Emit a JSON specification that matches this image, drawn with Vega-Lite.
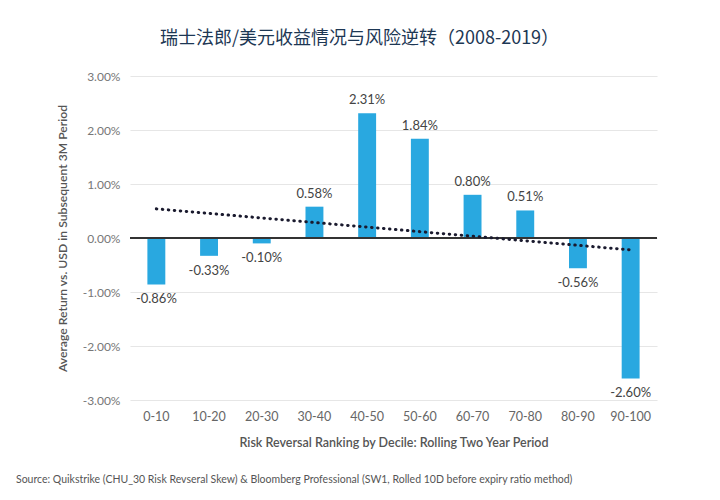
{
  "$schema": "https://vega.github.io/schema/vega-lite/v6.json",
  "padding": {"left": 16, "right": 5, "top": 30, "bottom": 10},
  "background": "white",
  "config": {
    "font": "Lato",
    "view": {"stroke": null},
    "locale": {"number": {"decimal": ".", "thousands": ",", "grouping": [3], "currency": ["$", ""], "minus": "-"}}
  },
  "title": {
    "text": "Source: Quikstrike (CHU_30 Risk Revseral Skew) & Bloomberg Professional (SW1, Rolled 10D before expiry ratio method)",
    "orient": "bottom",
    "anchor": "start",
    "frame": "group",
    "dx": -114,
    "offset": 26,
    "fontSize": 10.5,
    "fontWeight": "normal",
    "color": "#555555",
    "font": "Lato"
  },
  "datasets": {
    "bars": [
      {"decile": "0-10", "ret": -0.0086},
      {"decile": "10-20", "ret": -0.0033},
      {"decile": "20-30", "ret": -0.0010},
      {"decile": "30-40", "ret": 0.0058},
      {"decile": "40-50", "ret": 0.0231},
      {"decile": "50-60", "ret": 0.0184},
      {"decile": "60-70", "ret": 0.0080},
      {"decile": "70-80", "ret": 0.0051},
      {"decile": "80-90", "ret": -0.0056},
      {"decile": "90-100", "ret": -0.0260}
    ],
    "trend": [
      {"decile": "0-10", "trend": 0.0054},
      {"decile": "90-100", "trend": -0.0022}
    ]
  },
  "vconcat": [
    {
      "title": {
        "text": "瑞士法郎/美元收益情况与风险逆转（2008-2019）",
        "font": "Noto Sans CJK SC",
        "fontSize": 18,
        "fontWeight": "normal",
        "color": "#1d3754",
        "anchor": "middle",
        "frame": "group",
        "dx": -34,
        "offset": 22
      },
      "width": 527,
      "height": 324,
      "layer": [
        {
          "data": {"name": "bars"},
          "mark": {"type": "bar", "color": "#29a8e0"},
          "encoding": {
            "x": {
              "field": "decile",
              "type": "ordinal",
              "sort": null,
              "scale": {"paddingInner": 0.66, "paddingOuter": 0.33},
              "axis": {
                "title": "Risk Reversal Ranking by Decile: Rolling Two Year Period",
                "titleFontSize": 12.5,
                "titleFontWeight": 600,
                "titleColor": "#555555",
                "titlePadding": 14,
                "labelAngle": 0,
                "labelFontSize": 12.5,
                "labelColor": "#666666",
                "labelPadding": 10,
                "ticks": false,
                "domain": false
              }
            },
            "y": {
              "field": "ret",
              "type": "quantitative",
              "scale": {"domain": [-0.03, 0.03]},
              "axis": {
                "title": "Average Return vs. USD in Subsequent 3M Period",
                "titleFontSize": 12.2,
                "titleFontWeight": 600,
                "titleColor": "#555555",
                "titlePadding": 13,
                "titleLimit": 500,
                "format": ".2%",
                "values": [-0.03, -0.02, -0.01, 0, 0.01, 0.02, 0.03],
                "labelFontSize": 12,
                "labelColor": "#777777",
                "labelPadding": 10,
                "ticks": false,
                "domain": false,
                "gridColor": "#e6e6e6",
                "gridWidth": 1.2
              }
            }
          }
        },
        {
          "data": {"values": [{"zero": 0}]},
          "mark": {"type": "rule", "color": "#333333", "strokeWidth": 2},
          "encoding": {"y": {"field": "zero", "type": "quantitative"}}
        },
        {
          "data": {"name": "trend"},
          "mark": {"type": "line", "color": "#1a1a2e", "strokeWidth": 3, "strokeDash": [0.5, 5.5], "strokeCap": "round"},
          "encoding": {
            "x": {"field": "decile", "type": "ordinal", "sort": null},
            "y": {"field": "trend", "type": "quantitative"}
          }
        },
        {
          "data": {"name": "bars"},
          "transform": [{"filter": "datum.ret >= 0"}],
          "mark": {"type": "text", "baseline": "bottom", "dy": -6, "fontSize": 13, "color": "#444444"},
          "encoding": {
            "x": {"field": "decile", "type": "ordinal", "sort": null},
            "y": {"field": "ret", "type": "quantitative"},
            "text": {"field": "ret", "type": "quantitative", "format": ".2%"}
          }
        },
        {
          "data": {"name": "bars"},
          "transform": [{"filter": "datum.ret < 0"}],
          "mark": {"type": "text", "baseline": "top", "dy": 9, "fontSize": 13, "color": "#444444"},
          "encoding": {
            "x": {"field": "decile", "type": "ordinal", "sort": null},
            "y": {"field": "ret", "type": "quantitative"},
            "text": {"field": "ret", "type": "quantitative", "format": ".2%"}
          }
        }
      ]
    }
  ]
}
